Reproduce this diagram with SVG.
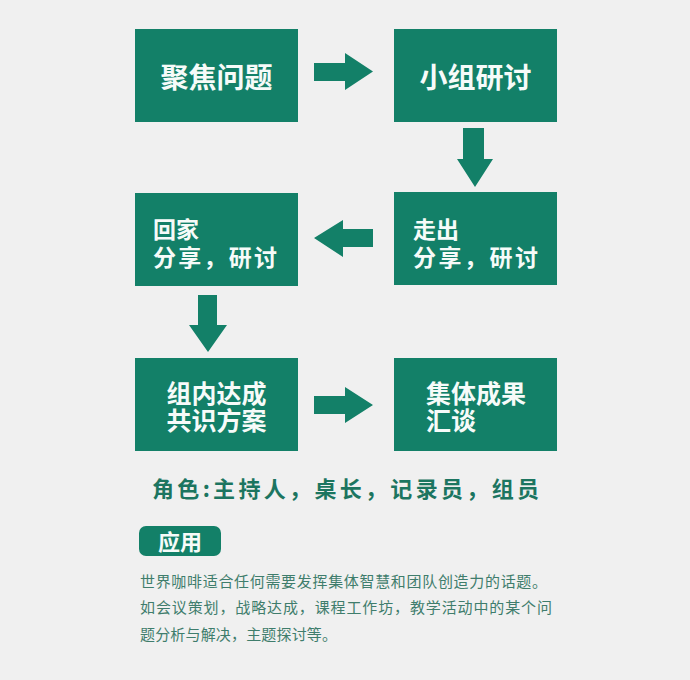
<svg xmlns="http://www.w3.org/2000/svg" width="690" height="680" viewBox="0 0 690 680">
<style>
.box{fill:#138068;}
.arr{fill:#138068;}
.bt{fill:#f6fbf9;font-family:"Noto Sans CJK SC","Noto Sans",sans-serif;font-weight:bold;}
.role{fill:#1c7560;font-family:"Noto Sans CJK SC","Noto Sans",sans-serif;font-weight:bold;font-size:22px;}
.para{fill:#3f7d6c;font-family:"Noto Sans CJK SC","Noto Sans",sans-serif;font-size:15px;}
</style>
<rect x="0" y="0" width="690" height="680" fill="#f0f0f0"/>
<g id="connectors">
<polygon class="arr" points="314,63 345,63 345,53 373,71.5 345,90 345,81 314,81"/>
<polygon class="arr" points="463,128 484,128 484,159 493,159 475,187 457,159 463,159"/>
<polygon class="arr" points="373,229 343,229 343,220 314,238 343,257 343,247 373,247"/>
<polygon class="arr" points="198,295 217,295 217,325 227,325 208,352 189,325 198,325"/>
<polygon class="arr" points="314,396 345,396 345,387 373,405 345,423 345,414 314,414"/>
</g>
<g id="node1">
<rect class="box" x="135" y="29" width="163" height="93"/>
<text class="bt" x="216.5" y="88" font-size="28" text-anchor="middle">聚焦问题</text>
</g>
<g id="node2">
<rect class="box" x="394" y="29" width="163" height="93"/>
<text class="bt" x="475.5" y="88" font-size="28" text-anchor="middle">小组研讨</text>
</g>
<g id="node3">
<rect class="box" x="135" y="193" width="163" height="93"/>
<text class="bt" x="153" y="238" font-size="23">回家</text>
<text class="bt" x="153" y="266" font-size="23" textLength="124" lengthAdjust="spacing">分享，研讨</text>
</g>
<g id="node4">
<rect class="box" x="394" y="192" width="163" height="93"/>
<text class="bt" x="413" y="238" font-size="23">走出</text>
<text class="bt" x="413" y="266" font-size="23" textLength="125" lengthAdjust="spacing">分享，研讨</text>
</g>
<g id="node5">
<rect class="box" x="135" y="358" width="163" height="93"/>
<text class="bt" x="216.5" y="403" font-size="25" text-anchor="middle">组内达成</text>
<text class="bt" x="216.5" y="430" font-size="25" text-anchor="middle">共识方案</text>
</g>
<g id="node6">
<rect class="box" x="394" y="358" width="163" height="93"/>
<text class="bt" x="426" y="403" font-size="25">集体成果</text>
<text class="bt" x="426" y="430" font-size="25">汇谈</text>
</g>
<text class="role" x="152" y="497" textLength="387" lengthAdjust="spacing">角色:主持人，桌长，记录员，组员</text>
<g id="badge">
<rect x="139" y="526" width="82" height="30" rx="7" fill="#138068"/>
<text class="bt" x="180" y="550" font-size="22" text-anchor="middle">应用</text>
</g>
<text class="para" x="140" y="587" textLength="407" lengthAdjust="spacing">世界咖啡适合任何需要发挥集体智慧和团队创造力的话题。</text>
<text class="para" x="140" y="613" textLength="412" lengthAdjust="spacing">如会议策划，战略达成，课程工作坊，教学活动中的某个问</text>
<text class="para" x="140" y="640" textLength="197" lengthAdjust="spacing">题分析与解决，主题探讨等。</text>
</svg>
